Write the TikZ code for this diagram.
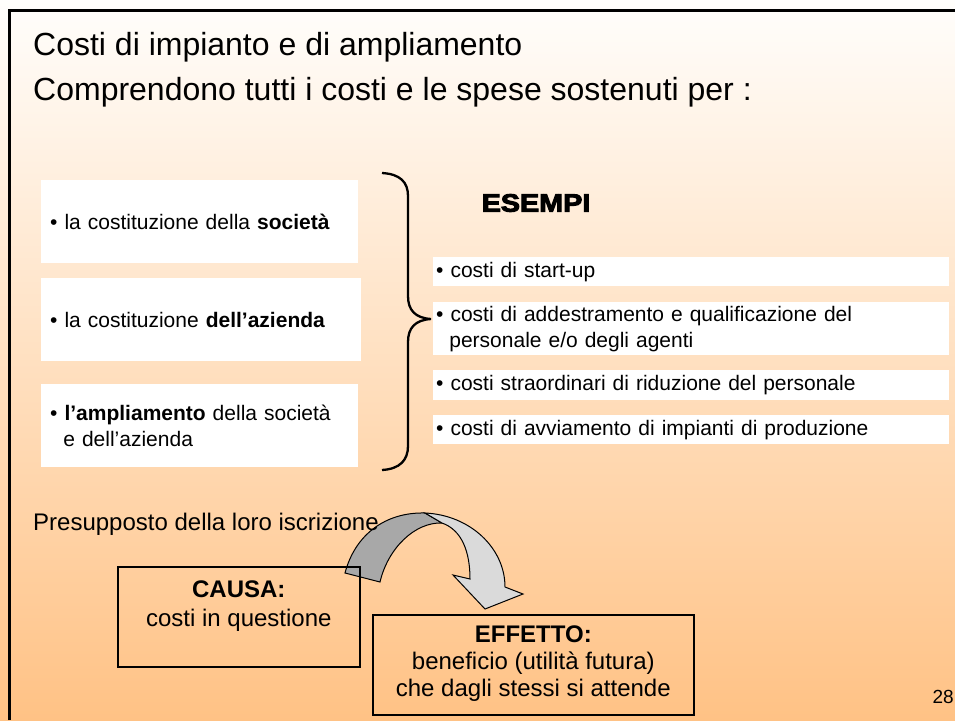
\documentclass[tikz,border=0pt]{standalone}
\usepackage{fontspec}
\setmainfont{Liberation Sans}
\newfontfamily\heavyfont{Liberation Sans Bold}[FakeBold=4,FakeStretch=1.15]
\usetikzlibrary{positioning,calc}
\definecolor{sbgtop}{HTML}{FFFEFC}
\definecolor{sbgmid}{HTML}{FDE3CD}
\definecolor{sbgbot}{HTML}{FFC285}
\definecolor{sarcdark}{HTML}{A8A8A8}
\definecolor{sarclight}{HTML}{DADADA}
\tikzset{
  wbox/.style={fill=white, inner xsep=9pt, inner ysep=0pt, align=left,
               anchor=north west, font=\fontsize{21}{26}\selectfont},
  lbox/.style={wbox, text width=299pt, minimum height=83pt},
  ebox/.style={wbox, inner xsep=3pt, text width=510pt, minimum height=29pt},
  kbox/.style={draw, line width=1.6pt, anchor=north west},
  ktext/.style={align=center, inner sep=0pt, font=\fontsize{24}{27}\selectfont},
  plain/.style={anchor=base west, inner sep=0pt},
}

\begin{document}
\begin{tikzpicture}[x=1pt, y=-1pt]
  \useasboundingbox (0,0) rectangle (955,720);
  %% ── background + frame ──
  \fill[top color=sbgtop, middle color=sbgmid, bottom color=sbgbot] (0,0) rectangle (955,720);
  \draw[line width=2.6pt] (9.5,720) -- (9.5,10.5) -- (955,10.5);

  %% ── titolo ──
  \node[plain, font=\fontsize{32}{38}\selectfont] (titolo) at (33,55) {Costi di impianto e di ampliamento};
  \node[plain, font=\fontsize{32}{38}\selectfont] (sottotitolo) at (33,100) {Comprendono tutti i costi e le spese sostenuti per :};

  %% ── finalità (sinistra) ──
  \node[lbox] (societa) at (41,180) {\textbullet\ la costituzione della \textbf{società}};
  \node[lbox, text width=302pt] (azienda) at (41,278) {\textbullet\ la costituzione \textbf{dell’azienda}};
  \node[lbox] (ampliam) at (41,384) {\textbullet\ \textbf{l’ampliamento} della società\\\hspace*{0.628em}e dell’azienda};

  %% ── graffa ──
  \draw[line width=2.3pt] (382,173) .. controls (400,174) and (408,182) .. (408,196)
    -- (408,296) .. controls (408,310) and (415,318) .. (431,319)
    .. controls (415,320) and (408,328) .. (408,342)
    -- (408,446) .. controls (408,460) and (400,469) .. (382,470);

  %% ── esempi (destra) ──
  \node[font=\heavyfont\fontsize{25}{30}\selectfont] (esempi) at (536,203) {ESEMPI};
  \node[ebox] (startup) at (433,257) {\textbullet\ costi di start-up};
  \node[ebox, minimum height=53pt] (addestr) at (433,302) {\textbullet\ costi di addestramento e qualificazione del\\\hspace*{0.628em}personale e/o degli agenti};
  \node[ebox, minimum height=30pt] (riduz) at (433,370) {\textbullet\ costi straordinari di riduzione del personale};
  \node[ebox] (avviam) at (433,415) {\textbullet\ costi di avviamento di impianti di produzione};

  %% ── freccia curva ──
  \filldraw[fill=sarcdark, line width=1pt] (345,573) .. controls (355,535) and (385,512) .. (425,513)
    -- (442,523) .. controls (415,522) and (388,548) .. (380,582) -- cycle;
  \filldraw[fill=sarclight, line width=1pt] (425,513) .. controls (470,515) and (505,548) .. (505,587)
    -- (523,594) -- (485,609) -- (453,575) -- (470,579)
    .. controls (470,552) and (462,530) .. (442,523) -- cycle;

  \node[plain, font=\fontsize{24}{28}\selectfont] (presup) at (33,530) {Presupposto della loro iscrizione};

  %% ── causa / effetto ──
  \node[kbox, minimum width=242pt, minimum height=100pt] (causa) at (117,566) {};
  \node[ktext, font=\fontsize{24}{29}\selectfont, anchor=north, below=15pt of causa.north] (causatxt) {\textbf{CAUSA:}\\costi in questione};
  \node[kbox, minimum width=321pt, minimum height=100pt] (effetto) at (372,614) {};
  \node[ktext, anchor=north, below=12pt of effetto.north] (effettotxt) {\textbf{EFFETTO:}\\beneficio (utilità futura)\\che dagli stessi si attende};

  \node[anchor=base east, inner sep=0pt, font=\fontsize{19}{23}\selectfont] (pagina) at (954,703) {28};
\end{tikzpicture}
\end{document}
